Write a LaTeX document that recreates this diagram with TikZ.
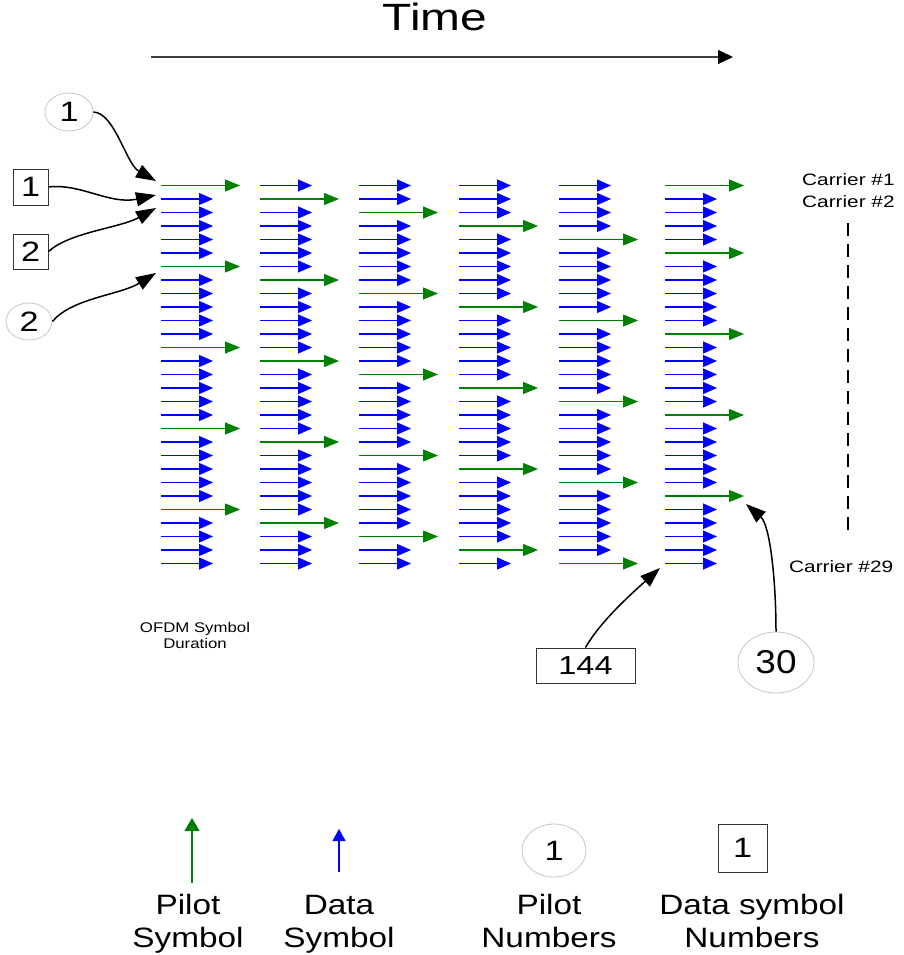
\documentclass[tikz,border=0pt]{standalone}
\usepackage{fontspec}
\setmainfont{Liberation Sans}
\usetikzlibrary{arrows.meta,shapes.geometric}
\newcommand{\hs}[2][1.22]{\scalebox{#1}[1]{#2}}
\newcommand{\fsz}[1]{\fontsize{#1}{#1}\selectfont}
\begin{document}
\begin{tikzpicture}[x=1pt,y=-1pt,
  dat/.style={draw=blue, line width=1.1pt, -{Triangle[length=14pt,width=12pt]}},
  pil/.style={draw=green!50!black, line width=1.1pt, -{Triangle[length=15pt,width=12pt]}},
  ann/.style={draw=black, line width=1.5pt, -{Triangle[length=20pt,width=14pt]}},
  pnum/.style={ellipse, draw=gray!45, line width=0.8pt, inner sep=0pt, font=\fsz{28}},
  dnum/.style={rectangle, draw=black!80, line width=1pt, inner sep=0pt, font=\fsz{28}},
  txt/.style={inner sep=0pt}
]
\useasboundingbox (0,0) rectangle (903,955);
\fill[white] (0,0) rectangle (903,955);

% Time
\node[txt, anchor=base, font=\fsz{38}] (time) at (435,31) {\hs[1.26]{Time}};
\coordinate (t0) at (151,57);
\coordinate (t1) at (733,57);
\draw[line width=1.3pt, black!75, -{Triangle[length=15pt,width=14pt,color=black]}] (t0) -- (t1);

% grid of carriers
\foreach \c/\x in {1/161,2/260,3/359,4/459,5/559,6/665}{
  \foreach \i in {1,...,29}{
    \pgfmathsetmacro{\yy}{185.5+(\i-1)*13.5}
    \ifnum\c=6
      \pgfmathtruncatemacro{\r}{ifthenelse(or(mod(\i,6)==0,\i==1),0,1)}
    \else
      \pgfmathtruncatemacro{\r}{mod(\i-\c+12,6)}
    \fi
    \ifnum\r=0
      \draw[pil] (\x,\yy) -- ++(79,0);
    \else
      \draw[dat] (\x,\yy) -- ++(52,0);
    \fi
  }
}

% carrier labels
\node[txt, anchor=base west, font=\fsz{16.5}] (car1) at (802,185) {\hs[1.26]{Carrier \#1}};
\node[txt, anchor=base west, font=\fsz{16.5}] (car2) at (802,207) {\hs[1.26]{Carrier \#2}};
\node[txt, anchor=base west, font=\fsz{16.5}] (car29) at (789,572) {\hs[1.26]{Carrier \#29}};
\coordinate (d0) at (848,223);
\coordinate (d1) at (848,534);
\draw[line width=1.3pt, dash pattern=on 13pt off 8pt] (d0) -- (d1);

% OFDM symbol duration
\node[txt, anchor=base, font=\fsz{14}] (ofdm1) at (195,632) {\hs[1.2]{OFDM Symbol}};
\node[txt, anchor=base, font=\fsz{14}] (ofdm2) at (195,648) {\hs[1.2]{Duration}};

% number markers
\node[pnum, minimum width=48pt, minimum height=38pt] (e1) at (69,112) {\hs{1}};
\node[dnum, minimum width=35pt, minimum height=36pt] (b1) at (30.5,187) {\hs{1}};
\node[dnum, minimum width=35pt, minimum height=35pt] (b2) at (30.5,251.5) {\hs{2}};
\node[pnum, minimum width=46pt, minimum height=37pt] (e2) at (29,321.5) {\hs{2}};
\node[dnum, minimum width=99pt, minimum height=35pt, font=\fsz{26}] (b144) at (585.5,665.5) {\hs[1.25]{144}};
\node[pnum, minimum width=76pt, minimum height=61pt, font=\fsz{33}] (e30) at (776,662.5) {\hs[1.12]{30}};

\coordinate (tip1) at (156,181);
\coordinate (tip2) at (156,195);
\coordinate (tip3) at (156,208);
\coordinate (tip4) at (156,273);
\coordinate (tip5) at (660,568);
\coordinate (tip6) at (746,504);
\draw[ann] (e1.east) .. controls (115,113) and (126,164) .. (tip1);
\draw[ann] (b1.east) .. controls (80,183) and (110,205) .. (tip2);
\draw[ann] (b2.east) .. controls (70,232) and (120,228) .. (tip3);
\draw[ann] (e2.east) .. controls (72,298) and (120,295) .. (tip4);
\draw[ann] (b144.north) .. controls (600,622) and (630,595) .. (tip5);
\draw[ann] (e30.north) .. controls (776,580) and (770,525) .. (tip6);

% legend
\coordinate (lp0) at (192,883);
\coordinate (lp1) at (192,818);
\draw[draw=green!50!black, line width=1.1pt, -{Triangle[length=13pt,width=15pt]}] (lp0) -- (lp1);
\coordinate (ld0) at (339,872);
\coordinate (ld1) at (339,829);
\draw[draw=blue, line width=1.1pt, -{Triangle[length=12pt,width=13pt]}] (ld0) -- (ld1);
\node[pnum, minimum width=64pt, minimum height=53pt] (le) at (554,850.5) {\hs{1}};
\node[dnum, minimum width=49pt, minimum height=48pt] (lb) at (742.5,848) {\hs{1}};

\node[txt, anchor=base, font=\fsz{28}] (lps1) at (188,914) {\hs[1.19]{Pilot}};
\node[txt, anchor=base, font=\fsz{28}] (lps2) at (188,947) {\hs[1.19]{Symbol}};
\node[txt, anchor=base, font=\fsz{28}] (lds1) at (339,914) {\hs[1.19]{Data}};
\node[txt, anchor=base, font=\fsz{28}] (lds2) at (339,947) {\hs[1.19]{Symbol}};
\node[txt, anchor=base, font=\fsz{28}] (lpn1) at (549,914) {\hs[1.19]{Pilot}};
\node[txt, anchor=base, font=\fsz{28}] (lpn2) at (549,947) {\hs[1.19]{Numbers}};
\node[txt, anchor=base, font=\fsz{28}] (ldn1) at (752,914) {\hs[1.19]{Data symbol}};
\node[txt, anchor=base, font=\fsz{28}] (ldn2) at (752,947) {\hs[1.19]{Numbers}};
\end{tikzpicture}
\end{document}
